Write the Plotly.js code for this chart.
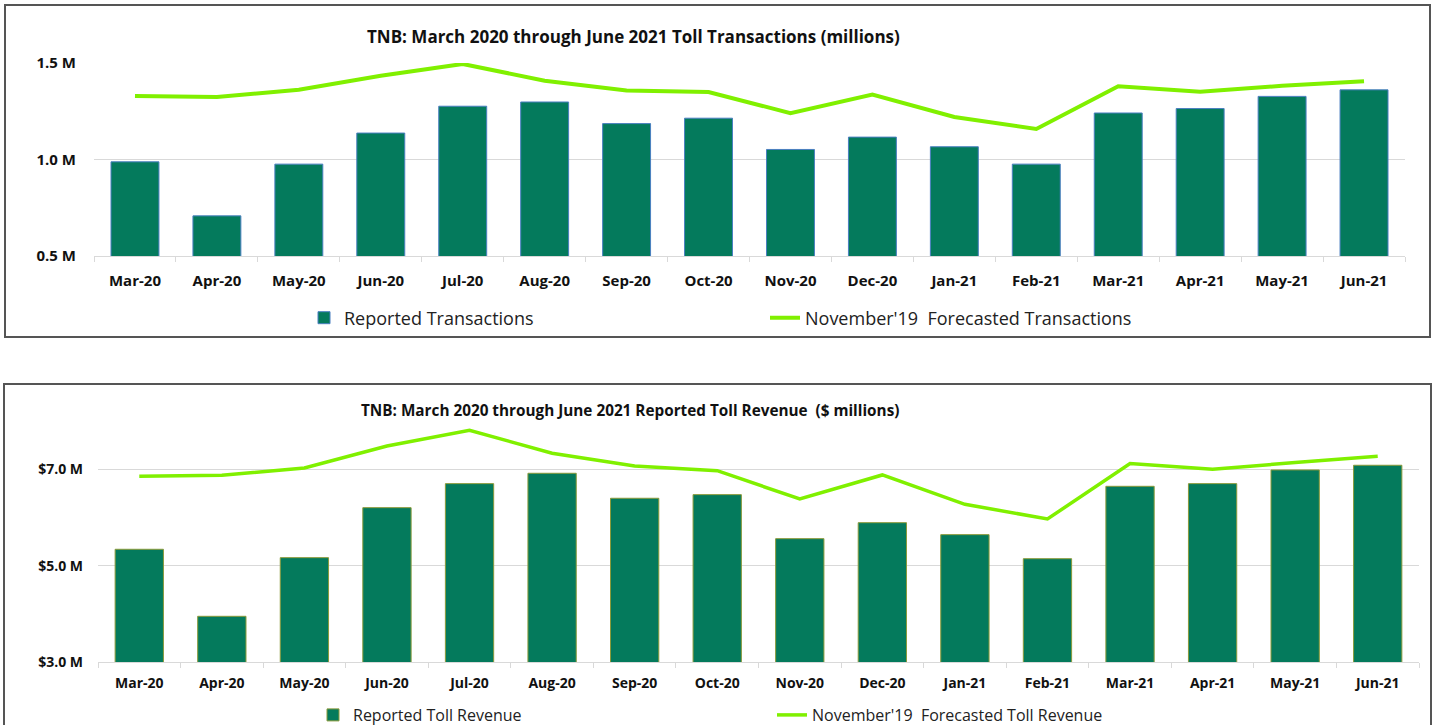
<!DOCTYPE html>
<html>
<head>
<meta charset="utf-8">
<script src="https://cdn.plot.ly/plotly-3.0.1.min.js"></script>
<style>
html,body{margin:0;padding:0;background:#fff;overflow:hidden;}
#chart{width:1433px;height:725px;}
</style>
</head>
<body>
<div id="chart"></div>
<script>
const months = ['Mar-20','Apr-20','May-20','Jun-20','Jul-20','Aug-20','Sep-20','Oct-20','Nov-20','Dec-20','Jan-21','Feb-21','Mar-21','Apr-21','May-21','Jun-21'];
const transReported = [0.988,0.708,0.976,1.137,1.276,1.298,1.186,1.214,1.052,1.116,1.066,0.976,1.241,1.264,1.327,1.361];
const transForecast = [1.329,1.324,1.361,1.434,1.495,1.408,1.358,1.350,1.240,1.337,1.220,1.158,1.379,1.351,1.382,1.406];
const revReported = [5.342,3.953,5.168,6.204,6.702,6.917,6.399,6.474,5.562,5.893,5.645,5.147,6.647,6.702,6.986,7.083];
const revForecast = [6.855,6.876,7.027,7.483,7.808,7.331,7.068,6.971,6.384,6.882,6.274,5.970,7.117,7.000,7.140,7.269];
const transTickVals = [0.5, 1.0, 1.5];
const transTickText = ['0.5 M', '1.0 M', '1.5 M'];
const revTickVals = [3, 5, 7];
const revTickText = ['$3.0 M', '$5.0 M', '$7.0 M'];

const W = 1433, H = 725;
const px = x => x / W;
const py = y => 1 - y / H;

const BAR = '#047a5c';
const LINE = '#80f000';
const FONT = 'Open Sans, sans-serif';

const traces = [
  {type:'bar', x:months, y:transReported, name:'Reported Transactions', xaxis:'x', yaxis:'y',
   marker:{color:BAR, line:{color:'#4a7fc0', width:1}}, legend:'legend', hoverinfo:'skip'},
  {type:'scatter', mode:'lines', x:months, y:transForecast, name:"November'19  Forecasted Transactions", xaxis:'x', yaxis:'y',
   line:{color:LINE, width:4}, legend:'legend', cliponaxis:false, hoverinfo:'skip'},
  {type:'bar', x:months, y:revReported, name:'Reported Toll Revenue', xaxis:'x2', yaxis:'y2',
   marker:{color:BAR, line:{color:'#8a9a3a', width:1}}, legend:'legend2', hoverinfo:'skip'},
  {type:'scatter', mode:'lines', x:months, y:revForecast, name:"November'19  Forecasted Toll Revenue", xaxis:'x2', yaxis:'y2',
   line:{color:LINE, width:3.5}, legend:'legend2', cliponaxis:false, hoverinfo:'skip'}
];

const xCommon = {
  type:'category', showline:true, linecolor:'#d9d9d9', linewidth:1,
  ticks:'outside', tickson:'boundaries', ticklen:5, tickcolor:'#d9d9d9',
  showgrid:false, automargin:false, fixedrange:true
};
const yCommon = {
  showgrid:true, gridcolor:'#d9d9d9', gridwidth:1, zeroline:false, showline:false,
  ticks:'', automargin:false, fixedrange:true, tickmode:'array'
};

const layout = {
  width:W, height:H,
  margin:{l:0,r:0,t:0,b:0, autoexpand:false},
  paper_bgcolor:'#fff', plot_bgcolor:'#fff',
  showlegend:true,
  bargap:0.415,
  xaxis:Object.assign({}, xCommon, {domain:[px(94), px(1405)], anchor:'y', ticklabelstandoff:11,
    tickfont:{family:FONT, size:15, color:'#111', weight:'bold'}}),
  yaxis:Object.assign({}, yCommon, {domain:[py(256), py(63)], anchor:'x', range:[0.5,1.5],
    tickvals:transTickVals, ticktext:transTickText, ticklabelstandoff:17,
    tickfont:{family:FONT, size:15, color:'#111', weight:'bold'}}),
  xaxis2:Object.assign({}, xCommon, {domain:[px(98), px(1419)], anchor:'y2', ticklabelstandoff:8,
    tickfont:{family:FONT, size:14, color:'#111', weight:'bold'}}),
  yaxis2:Object.assign({}, yCommon, {domain:[py(662.3), py(421)], anchor:'x2', range:[3,8],
    tickvals:revTickVals, ticktext:revTickText, ticklabelstandoff:14,
    tickfont:{family:FONT, size:14, color:'#111', weight:'bold'}}),
  legend:{orientation:'h', x:px(304), y:py(318), xanchor:'left', yanchor:'middle',
    entrywidth:416, entrywidthmode:'pixels', bgcolor:'rgba(0,0,0,0)',
    font:{family:FONT, size:18, color:'#222'}, traceorder:'normal'},
  legend2:{orientation:'h', x:px(313), y:py(715), xanchor:'left', yanchor:'middle',
    entrywidth:414, entrywidthmode:'pixels', bgcolor:'rgba(0,0,0,0)',
    font:{family:FONT, size:16, color:'#222'}, traceorder:'normal'},
  annotations:[
    {text:'<b>TNB: March 2020 through June 2021 Toll Transactions (millions)</b>', xref:'paper', yref:'paper',
     x:px(633), y:py(36), xanchor:'center', yanchor:'middle', showarrow:false,
     font:{family:FONT, size:17, color:'#111'}},
    {text:'<b>TNB: March 2020 through June 2021 Reported Toll Revenue  ($ millions)</b>', xref:'paper', yref:'paper',
     x:px(630), y:py(410), xanchor:'center', yanchor:'middle', showarrow:false,
     font:{family:FONT, size:15.3, color:'#111'}}
  ],
  shapes:[
    {type:'rect', xref:'paper', yref:'paper', x0:px(5), x1:px(1430), y0:py(337), y1:py(5),
     line:{color:'#555', width:2}, fillcolor:'rgba(0,0,0,0)', layer:'below'},
    {type:'rect', xref:'paper', yref:'paper', x0:px(4), x1:px(1431), y0:py(735), y1:py(384),
     line:{color:'#555', width:2}, fillcolor:'rgba(0,0,0,0)', layer:'below'}
  ]
};

Plotly.newPlot('chart', traces, layout, {displayModeBar:false, staticPlot:true});
</script>
</body>
</html>
